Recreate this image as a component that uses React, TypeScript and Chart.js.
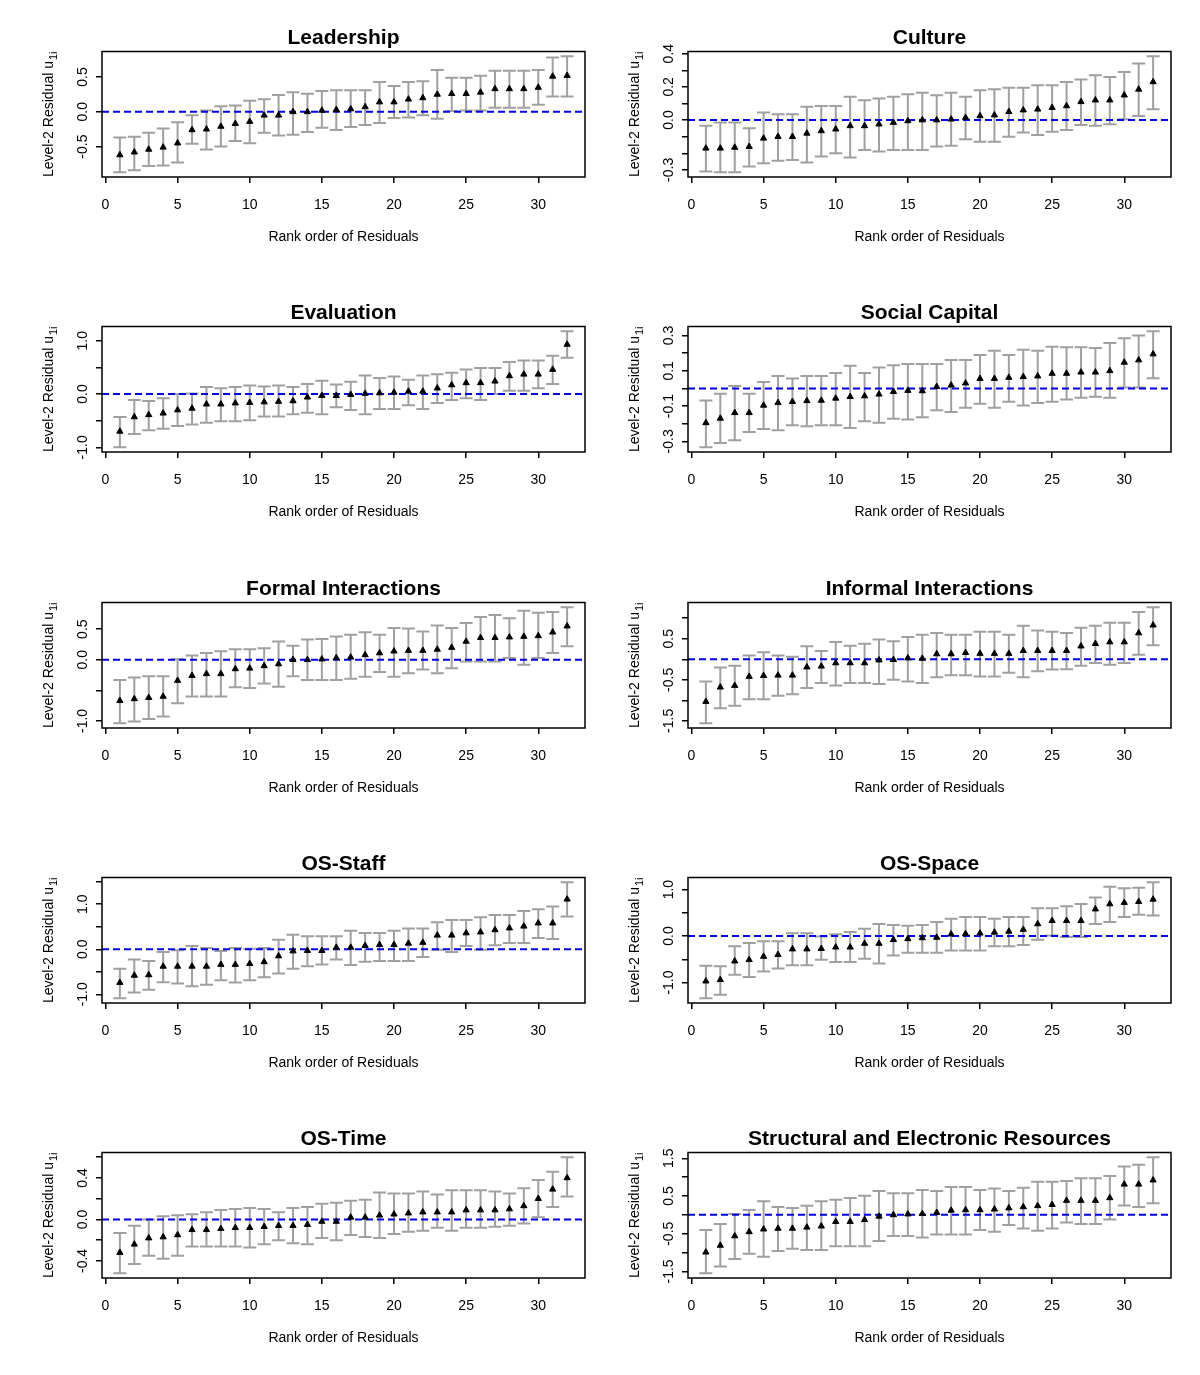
import React, { useEffect, useRef } from "react";
import { Chart, registerables } from "chart.js";
Chart.register(...registerables);

const FONT = '"Liberation Sans", Arial, Helvetica, sans-serif';

// ---- shared axes ----
const ranks = [1, 2, 3, 4, 5, 6, 7, 8, 9, 10, 11, 12, 13, 14, 15, 16, 17, 18, 19, 20, 21, 22, 23, 24, 25, 26, 27, 28, 29, 30, 31, 32];
const xTicks = [0, 5, 10, 15, 20, 25, 30];
const xAxisTitle = "Rank order of Residuals";
const yAxisTitleMain = "Level-2 Residual u";
const yAxisTitleSub = "1i";

// ---- Leadership ----
const leadershipEst = [-0.62, -0.58, -0.54, -0.51, -0.45, -0.26, -0.25, -0.21, -0.17, -0.14, -0.05, -0.05, 0.0, 0.0, 0.02, 0.03, 0.04, 0.07, 0.14, 0.14, 0.18, 0.2, 0.25, 0.26, 0.26, 0.28, 0.33, 0.33, 0.33, 0.35, 0.51, 0.52];
const leadershipLo = [-0.87, -0.84, -0.78, -0.77, -0.73, -0.46, -0.54, -0.5, -0.42, -0.45, -0.3, -0.34, -0.33, -0.29, -0.23, -0.26, -0.22, -0.19, -0.16, -0.09, -0.08, -0.05, -0.1, 0.01, 0.02, 0.02, 0.06, 0.06, 0.06, 0.1, 0.22, 0.22];
const leadershipHi = [-0.37, -0.36, -0.3, -0.24, -0.15, -0.05, 0.02, 0.08, 0.09, 0.16, 0.18, 0.24, 0.28, 0.26, 0.3, 0.31, 0.31, 0.31, 0.43, 0.37, 0.43, 0.44, 0.6, 0.49, 0.49, 0.52, 0.59, 0.59, 0.59, 0.6, 0.78, 0.8];
const leadershipYTicks = [-0.5, 0, 0.5];
const leadershipYLabels = [-0.5, 0, 0.5];

// ---- Culture ----
const cultureEst = [-0.17, -0.17, -0.165, -0.16, -0.11, -0.1, -0.1, -0.08, -0.065, -0.055, -0.035, -0.035, -0.025, -0.015, -0.005, 0.0, 0.0, 0.005, 0.015, 0.025, 0.03, 0.05, 0.06, 0.065, 0.075, 0.085, 0.11, 0.12, 0.12, 0.15, 0.185, 0.23];
const cultureLo = [-0.31, -0.315, -0.315, -0.28, -0.26, -0.245, -0.24, -0.255, -0.22, -0.2, -0.225, -0.18, -0.19, -0.18, -0.18, -0.18, -0.16, -0.155, -0.115, -0.13, -0.13, -0.1, -0.075, -0.09, -0.07, -0.06, -0.03, -0.035, -0.025, 0.005, 0.025, 0.065];
const cultureHi = [-0.035, -0.015, -0.015, -0.05, 0.045, 0.035, 0.035, 0.08, 0.085, 0.085, 0.14, 0.12, 0.13, 0.14, 0.155, 0.165, 0.15, 0.165, 0.14, 0.18, 0.185, 0.195, 0.195, 0.21, 0.21, 0.23, 0.245, 0.27, 0.26, 0.29, 0.34, 0.385];
const cultureYTicks = [-0.3, -0.2, -0.1, 0, 0.1, 0.2, 0.3, 0.4];
const cultureYLabels = [-0.3, 0, 0.2, 0.4];

// ---- Evaluation ----
const evaluationEst = [-0.7, -0.43, -0.39, -0.36, -0.3, -0.27, -0.19, -0.19, -0.17, -0.16, -0.15, -0.14, -0.13, -0.06, -0.03, -0.03, -0.01, 0.01, 0.02, 0.03, 0.05, 0.05, 0.11, 0.17, 0.21, 0.21, 0.24, 0.34, 0.37, 0.37, 0.46, 0.93];
const evaluationLo = [-1.0, -0.75, -0.68, -0.65, -0.6, -0.57, -0.54, -0.51, -0.51, -0.49, -0.42, -0.42, -0.38, -0.35, -0.38, -0.25, -0.3, -0.38, -0.28, -0.28, -0.21, -0.28, -0.17, -0.11, -0.08, -0.11, 0.0, 0.06, 0.06, 0.11, 0.19, 0.68];
const evaluationHi = [-0.43, -0.11, -0.13, -0.08, 0.0, 0.01, 0.13, 0.11, 0.13, 0.16, 0.14, 0.16, 0.13, 0.19, 0.25, 0.18, 0.23, 0.35, 0.3, 0.33, 0.27, 0.35, 0.37, 0.4, 0.46, 0.49, 0.49, 0.6, 0.63, 0.63, 0.72, 1.18];
const evaluationYTicks = [-1, -0.5, 0, 0.5, 1];
const evaluationYLabels = [-1, 0, 1];

// ---- Social Capital ----
const socialEst = [-0.195, -0.17, -0.138, -0.138, -0.096, -0.081, -0.075, -0.07, -0.068, -0.056, -0.047, -0.043, -0.033, -0.018, -0.012, -0.014, 0.01, 0.018, 0.03, 0.056, 0.056, 0.062, 0.066, 0.07, 0.085, 0.085, 0.092, 0.092, 0.1, 0.148, 0.161, 0.195];
const socialLo = [-0.334, -0.31, -0.294, -0.247, -0.23, -0.237, -0.209, -0.214, -0.209, -0.209, -0.224, -0.186, -0.195, -0.172, -0.176, -0.163, -0.123, -0.134, -0.11, -0.087, -0.11, -0.075, -0.096, -0.083, -0.075, -0.062, -0.052, -0.047, -0.052, 0.005, 0.005, 0.058];
const socialHi = [-0.068, -0.03, 0.014, -0.03, 0.037, 0.071, 0.056, 0.071, 0.071, 0.087, 0.129, 0.087, 0.119, 0.132, 0.138, 0.138, 0.138, 0.161, 0.161, 0.19, 0.214, 0.19, 0.22, 0.214, 0.237, 0.233, 0.233, 0.23, 0.258, 0.285, 0.3, 0.325];
const socialYTicks = [-0.3, -0.2, -0.1, 0, 0.1, 0.2, 0.3];
const socialYLabels = [-0.3, -0.1, 0.1, 0.3];

// ---- Formal Interactions ----
const formalEst = [-0.67, -0.64, -0.62, -0.6, -0.34, -0.26, -0.23, -0.23, -0.15, -0.14, -0.1, -0.07, 0.0, 0.0, 0.01, 0.03, 0.04, 0.08, 0.11, 0.14, 0.15, 0.15, 0.17, 0.2, 0.3, 0.36, 0.36, 0.37, 0.38, 0.39, 0.45, 0.55];
const formalLo = [-1.04, -1.01, -0.97, -0.93, -0.71, -0.6, -0.6, -0.6, -0.45, -0.46, -0.39, -0.44, -0.27, -0.33, -0.33, -0.33, -0.31, -0.28, -0.2, -0.28, -0.22, -0.16, -0.22, -0.14, -0.03, -0.03, -0.03, 0.03, -0.08, 0.03, 0.11, 0.22];
const formalHi = [-0.33, -0.29, -0.27, -0.27, 0.01, 0.07, 0.11, 0.14, 0.17, 0.17, 0.19, 0.3, 0.23, 0.33, 0.34, 0.38, 0.41, 0.45, 0.41, 0.52, 0.51, 0.46, 0.56, 0.52, 0.6, 0.7, 0.73, 0.68, 0.8, 0.77, 0.78, 0.86];
const formalYTicks = [-1, -0.5, 0, 0.5];
const formalYLabels = [-1, 0, 0.5];

// ---- Informal Interactions ----
const informalEst = [-1.03, -0.68, -0.64, -0.42, -0.4, -0.39, -0.39, -0.19, -0.17, -0.09, -0.09, -0.09, -0.02, -0.01, 0.03, 0.02, 0.13, 0.13, 0.16, 0.14, 0.14, 0.14, 0.21, 0.21, 0.21, 0.21, 0.32, 0.38, 0.42, 0.42, 0.64, 0.83];
const informalLo = [-1.56, -1.19, -1.13, -0.97, -0.97, -0.89, -0.85, -0.7, -0.58, -0.64, -0.58, -0.58, -0.6, -0.5, -0.54, -0.58, -0.44, -0.39, -0.39, -0.42, -0.42, -0.33, -0.44, -0.29, -0.25, -0.24, -0.16, -0.09, -0.13, -0.09, 0.11, 0.34];
const informalHi = [-0.54, -0.2, -0.16, 0.09, 0.17, 0.09, 0.06, 0.32, 0.2, 0.42, 0.33, 0.38, 0.48, 0.44, 0.54, 0.6, 0.64, 0.6, 0.6, 0.67, 0.67, 0.6, 0.82, 0.7, 0.67, 0.64, 0.77, 0.82, 0.89, 0.89, 1.15, 1.27];
const informalYTicks = [-1.5, -1, -0.5, 0, 0.5, 1];
const informalYLabels = [-1.5, -0.5, 0.5];

// ---- OS-Staff ----
const staffEst = [-0.74, -0.58, -0.57, -0.38, -0.38, -0.38, -0.38, -0.34, -0.34, -0.32, -0.28, -0.15, -0.04, -0.03, -0.03, 0.04, 0.04, 0.08, 0.1, 0.1, 0.13, 0.15, 0.31, 0.31, 0.36, 0.38, 0.43, 0.47, 0.51, 0.58, 0.58, 1.11];
const staffLo = [-1.09, -0.96, -0.9, -0.73, -0.76, -0.82, -0.79, -0.69, -0.74, -0.69, -0.62, -0.54, -0.43, -0.38, -0.34, -0.23, -0.35, -0.28, -0.26, -0.26, -0.26, -0.17, -0.01, -0.06, 0.07, -0.01, 0.09, 0.14, 0.14, 0.25, 0.23, 0.73];
const staffHi = [-0.43, -0.23, -0.26, -0.06, -0.02, 0.07, 0.03, -0.04, 0.03, 0.01, 0.03, 0.21, 0.32, 0.29, 0.29, 0.29, 0.41, 0.36, 0.36, 0.41, 0.46, 0.46, 0.6, 0.65, 0.65, 0.71, 0.76, 0.76, 0.85, 0.89, 0.95, 1.49];
const staffYTicks = [-1, -0.5, 0, 0.5, 1, 1.5];
const staffYLabels = [-1, 0, 1];

// ---- OS-Space ----
const spaceEst = [-0.97, -0.94, -0.54, -0.51, -0.44, -0.4, -0.28, -0.28, -0.27, -0.24, -0.24, -0.16, -0.16, -0.08, -0.06, -0.04, -0.03, 0.04, 0.05, 0.06, 0.08, 0.1, 0.14, 0.26, 0.33, 0.33, 0.33, 0.58, 0.69, 0.72, 0.74, 0.79];
const spaceLo = [-1.34, -1.26, -0.83, -0.88, -0.76, -0.7, -0.63, -0.63, -0.51, -0.56, -0.56, -0.49, -0.59, -0.42, -0.36, -0.36, -0.36, -0.31, -0.31, -0.31, -0.22, -0.22, -0.19, -0.08, 0.01, -0.02, -0.02, 0.26, 0.3, 0.41, 0.46, 0.44];
const spaceHi = [-0.64, -0.65, -0.22, -0.15, -0.11, -0.11, 0.06, 0.06, -0.01, 0.04, 0.09, 0.16, 0.26, 0.24, 0.22, 0.24, 0.3, 0.37, 0.41, 0.41, 0.37, 0.41, 0.41, 0.6, 0.6, 0.64, 0.69, 0.83, 1.06, 1.03, 1.04, 1.16];
const spaceYTicks = [-1, -0.5, 0, 0.5, 1];
const spaceYLabels = [-1, 0, 1];

// ---- OS-Time ----
const timeEst = [-0.32, -0.24, -0.18, -0.17, -0.15, -0.1, -0.1, -0.09, -0.08, -0.08, -0.07, -0.06, -0.06, -0.05, -0.02, -0.02, 0.02, 0.02, 0.04, 0.05, 0.06, 0.07, 0.07, 0.07, 0.09, 0.09, 0.09, 0.1, 0.13, 0.2, 0.29, 0.4];
const timeLo = [-0.52, -0.43, -0.35, -0.38, -0.35, -0.26, -0.26, -0.26, -0.26, -0.27, -0.24, -0.2, -0.23, -0.24, -0.18, -0.2, -0.15, -0.17, -0.18, -0.14, -0.12, -0.11, -0.08, -0.11, -0.08, -0.08, -0.07, -0.06, -0.04, 0.02, 0.12, 0.22];
const timeHi = [-0.13, -0.06, 0.0, 0.03, 0.04, 0.05, 0.07, 0.09, 0.1, 0.11, 0.1, 0.07, 0.11, 0.12, 0.15, 0.16, 0.18, 0.19, 0.26, 0.25, 0.25, 0.27, 0.24, 0.28, 0.28, 0.28, 0.27, 0.25, 0.3, 0.38, 0.46, 0.6];
const timeYTicks = [-0.4, -0.2, 0, 0.2, 0.4, 0.6];
const timeYLabels = [-0.4, 0, 0.4];

// ---- Structural and Electronic Resources ----
const structEst = [-0.99, -0.81, -0.56, -0.45, -0.38, -0.36, -0.36, -0.33, -0.3, -0.18, -0.18, -0.13, -0.04, 0.0, 0.02, 0.03, 0.06, 0.12, 0.13, 0.13, 0.15, 0.18, 0.21, 0.24, 0.27, 0.38, 0.38, 0.38, 0.45, 0.81, 0.81, 0.92];
const structLo = [-1.55, -1.37, -1.17, -1.03, -1.11, -0.96, -0.9, -0.93, -0.93, -0.83, -0.83, -0.83, -0.69, -0.56, -0.56, -0.6, -0.52, -0.52, -0.52, -0.4, -0.45, -0.27, -0.36, -0.42, -0.36, -0.2, -0.24, -0.24, -0.12, 0.25, 0.21, 0.31];
const structHi = [-0.4, -0.24, 0.02, 0.13, 0.36, 0.21, 0.18, 0.24, 0.36, 0.4, 0.45, 0.51, 0.63, 0.57, 0.57, 0.66, 0.63, 0.74, 0.74, 0.66, 0.7, 0.63, 0.72, 0.88, 0.88, 0.9, 0.97, 0.97, 1.03, 1.28, 1.33, 1.53];
const structYTicks = [-1.5, -1, -0.5, 0, 0.5, 1, 1.5];
const structYLabels = [-1.5, -0.5, 0.5, 1.5];

type PanelDef = {
  title: string;
  est: number[];
  lo: number[];
  hi: number[];
  yTicks: number[];
  yLabels: number[];
};

const panels: PanelDef[] = [
  { title: "Leadership", est: leadershipEst, lo: leadershipLo, hi: leadershipHi, yTicks: leadershipYTicks, yLabels: leadershipYLabels },
  { title: "Culture", est: cultureEst, lo: cultureLo, hi: cultureHi, yTicks: cultureYTicks, yLabels: cultureYLabels },
  { title: "Evaluation", est: evaluationEst, lo: evaluationLo, hi: evaluationHi, yTicks: evaluationYTicks, yLabels: evaluationYLabels },
  { title: "Social Capital", est: socialEst, lo: socialLo, hi: socialHi, yTicks: socialYTicks, yLabels: socialYLabels },
  { title: "Formal Interactions", est: formalEst, lo: formalLo, hi: formalHi, yTicks: formalYTicks, yLabels: formalYLabels },
  { title: "Informal Interactions", est: informalEst, lo: informalLo, hi: informalHi, yTicks: informalYTicks, yLabels: informalYLabels },
  { title: "OS-Staff", est: staffEst, lo: staffLo, hi: staffHi, yTicks: staffYTicks, yLabels: staffYLabels },
  { title: "OS-Space", est: spaceEst, lo: spaceLo, hi: spaceHi, yTicks: spaceYTicks, yLabels: spaceYLabels },
  { title: "OS-Time", est: timeEst, lo: timeLo, hi: timeHi, yTicks: timeYTicks, yLabels: timeYLabels },
  { title: "Structural and Electronic Resources", est: structEst, lo: structLo, hi: structHi, yTicks: structYTicks, yLabels: structYLabels },
];

const CANVAS_W = 600;
const CANVAS_H = 275;
const ROW_STEP = 275.25;
const COL_STEP = 586;

function fmt(v: number) {
  return v.toFixed(1);
}

function makePlugin(def: PanelDef) {
  return {
    id: "rstyle",
    beforeDatasetsDraw(chart: any) {
      const { ctx, scales } = chart;
      const x = scales.x;
      const y = scales.y;
      ctx.save();
      ctx.strokeStyle = "#a0a0a0";
      ctx.lineWidth = 2;
      ctx.lineCap = "butt";
      const cap = 6.5;
      def.lo.forEach((lo, i) => {
        const px = x.getPixelForValue(ranks[i]);
        const y1 = y.getPixelForValue(lo);
        const y2 = y.getPixelForValue(def.hi[i]);
        ctx.beginPath();
        ctx.moveTo(px, y1);
        ctx.lineTo(px, y2);
        ctx.moveTo(px - cap, y1);
        ctx.lineTo(px + cap, y1);
        ctx.moveTo(px - cap, y2);
        ctx.lineTo(px + cap, y2);
        ctx.stroke();
      });
      ctx.restore();
    },
    afterDraw(chart: any) {
      const { ctx, chartArea, scales } = chart;
      const y = scales.y;
      ctx.save();
      // plot box
      ctx.strokeStyle = "#000";
      ctx.lineWidth = 1.5;
      ctx.strokeRect(chartArea.left, chartArea.top, chartArea.right - chartArea.left, chartArea.bottom - chartArea.top);
      // title
      ctx.fillStyle = "#000";
      ctx.font = `bold 21px ${FONT}`;
      ctx.textAlign = "center";
      ctx.textBaseline = "alphabetic";
      ctx.fillText(def.title, (chartArea.left + chartArea.right) / 2, chartArea.top - 7.5);
      // y tick labels (rotated, R style)
      ctx.font = `14px ${FONT}`;
      def.yLabels.forEach((v) => {
        const py = y.getPixelForValue(v);
        ctx.save();
        ctx.translate(chartArea.left - 15.3, py);
        ctx.rotate(-Math.PI / 2);
        ctx.textAlign = "center";
        ctx.textBaseline = "alphabetic";
        ctx.fillText(fmt(v), 0, 0);
        ctx.restore();
      });
      // y axis title with subscript
      const mainFont = `14px ${FONT}`;
      const subFont = `11px ${FONT}`;
      ctx.font = mainFont;
      const wMain = ctx.measureText(yAxisTitleMain).width;
      ctx.font = subFont;
      const wSub = ctx.measureText(yAxisTitleSub).width;
      const total = wMain + wSub + 1;
      const cy = (chartArea.top + chartArea.bottom) / 2;
      ctx.save();
      ctx.translate(chartArea.left - 49.5, cy + total / 2);
      ctx.rotate(-Math.PI / 2);
      ctx.textAlign = "left";
      ctx.textBaseline = "alphabetic";
      ctx.font = mainFont;
      ctx.fillText(yAxisTitleMain, 0, 0);
      ctx.font = subFont;
      ctx.fillText(yAxisTitleSub, wMain + 1, 4);
      ctx.restore();
      ctx.restore();
    },
  };
}

function Panel({ def, left, top }: { def: PanelDef; left: number; top: number }) {
  const ref = useRef<HTMLCanvasElement | null>(null);
  useEffect(() => {
    const canvas = ref.current;
    if (!canvas) return;
    const minLo = Math.min(...def.lo);
    const maxHi = Math.max(...def.hi);
    const ext = 0.04 * (maxHi - minLo);
    const yMin = minLo - ext;
    const yMax = maxHi + ext;
    const xExt = 0.04 * (ranks[ranks.length - 1] - ranks[0]);
    const xMin = ranks[0] - xExt;
    const xMax = ranks[ranks.length - 1] + xExt;

    const chart = new Chart(canvas, {
      type: "scatter",
      data: {
        datasets: [
          {
            label: "estimate",
            data: ranks.map((r, i) => ({ x: r, y: def.est[i] })),
            pointStyle: "triangle",
            pointRadius: 3.6,
            pointBackgroundColor: "#000",
            pointBorderColor: "#000",
            pointBorderWidth: 1,
            showLine: false,
          },
          {
            type: "line",
            label: "zero",
            data: [
              { x: xMin, y: 0 },
              { x: xMax, y: 0 },
            ],
            borderColor: "#0000ee",
            borderWidth: 2,
            borderDash: [7, 4],
            pointRadius: 0,
            fill: false,
          } as any,
        ],
      },
      options: {
        responsive: false,
        animation: false,
        devicePixelRatio: 1,
        events: [],
        layout: { padding: { top: 51.5, right: 15, bottom: 0, left: 0 } },
        plugins: {
          legend: { display: false },
          title: { display: false },
          tooltip: { enabled: false },
        },
        scales: {
          x: {
            type: "linear",
            min: xMin,
            max: xMax,
            afterBuildTicks: (s: any) => {
              s.ticks = xTicks.map((v) => ({ value: v }));
            },
            afterFit: (s: any) => {
              s.height = 98;
            },
            grid: { display: true, drawOnChartArea: false, drawTicks: true, tickLength: 6, color: "#000", lineWidth: 1.5 },
            border: { display: false },
            ticks: {
              font: { family: FONT, size: 14 },
              color: "#000",
              padding: 13.6,
              autoSkip: false,
              maxRotation: 0,
              minRotation: 0,
              callback: (v: any) => String(v),
            },
            title: {
              display: true,
              text: xAxisTitle,
              font: { family: FONT, size: 14 },
              color: "#000",
              padding: { top: 0, bottom: 29.6 },
            },
          },
          y: {
            type: "linear",
            min: yMin,
            max: yMax,
            afterBuildTicks: (s: any) => {
              s.ticks = def.yTicks.map((v) => ({ value: v }));
            },
            afterFit: (s: any) => {
              s.width = 102;
            },
            grid: { display: true, drawOnChartArea: false, drawTicks: true, tickLength: 6, color: "#000", lineWidth: 1.5 },
            border: { display: false },
            ticks: { display: false },
          },
        },
      } as any,
      plugins: [makePlugin(def)],
    });
    return () => chart.destroy();
  }, [def]);

  return (
    <canvas
      ref={ref}
      width={CANVAS_W}
      height={CANVAS_H}
      style={{ position: "absolute", left, top, width: CANVAS_W, height: CANVAS_H }}
    />
  );
}

export default function App() {
  return (
    <div style={{ position: "absolute", left: 0, top: 0, width: 1200, height: 1375, background: "#fff" }}>
      {panels.map((p, i) => {
        const col = i % 2;
        const row = Math.floor(i / 2);
        return <Panel key={p.title} def={p} left={col * COL_STEP} top={Math.round(row * ROW_STEP)} />;
      })}
    </div>
  );
}
